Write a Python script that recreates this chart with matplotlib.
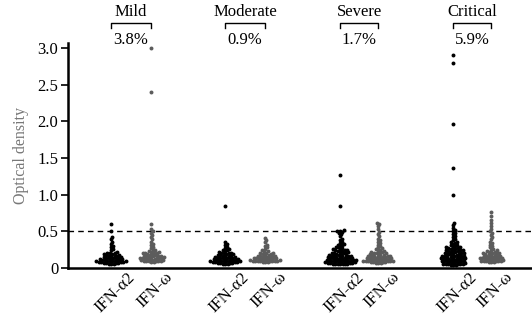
import numpy as np
import matplotlib
matplotlib.use("Agg")
import matplotlib.pyplot as plt
import matplotlib.transforms as mtransforms

plt.rcParams['font.family'] = ['Liberation Serif', 'DejaVu Serif']

severity = ["Mild", "Moderate", "Severe", "Critical"]
percent = ["3.8%", "0.9%", "1.7%", "5.9%"]
tick_labels = ["IFN-α2", "IFN-ω"] * 4

mild_a2 = [0.06, 0.06, 0.06, 0.07, 0.07, 0.07, 0.07, 0.08, 0.08, 0.08, 0.08,
           0.09, 0.09, 0.09, 0.09, 0.10, 0.10, 0.10, 0.11, 0.11, 0.11,
           0.12, 0.12, 0.12, 0.13, 0.13, 0.13, 0.14, 0.14, 0.15, 0.15,
           0.16, 0.16, 0.17, 0.17, 0.18, 0.18, 0.19, 0.19, 0.20, 0.20,
           0.21, 0.22, 0.24, 0.26, 0.28, 0.30, 0.33, 0.36, 0.39, 0.42,
           0.50, 0.60]
mild_w = [0.08, 0.08, 0.09, 0.09, 0.09, 0.10, 0.10, 0.10, 0.11, 0.11, 0.11,
          0.12, 0.12, 0.12, 0.13, 0.13, 0.13, 0.14, 0.14, 0.14, 0.15, 0.15,
          0.15, 0.16, 0.16, 0.16, 0.17, 0.17, 0.18, 0.18, 0.19, 0.19, 0.20,
          0.20, 0.21, 0.21, 0.22, 0.22, 0.23, 0.24, 0.25, 0.27, 0.29, 0.31,
          0.33, 0.36, 0.39, 0.42, 0.45, 0.48, 0.50, 0.53, 0.60, 2.40, 3.00]
mod_a2 = [0.06, 0.06, 0.06, 0.07, 0.07, 0.07, 0.07, 0.08, 0.08, 0.08, 0.08,
          0.09, 0.09, 0.09, 0.09, 0.10, 0.10, 0.10, 0.10, 0.11, 0.11, 0.11,
          0.12, 0.12, 0.12, 0.13, 0.13, 0.13, 0.14, 0.14, 0.14, 0.15, 0.15,
          0.16, 0.16, 0.17, 0.17, 0.18, 0.18, 0.19, 0.19, 0.20, 0.20, 0.21,
          0.21, 0.22, 0.23, 0.24, 0.25, 0.26, 0.27, 0.29, 0.31, 0.33, 0.36,
          0.85]
mod_w = [0.08, 0.08, 0.08, 0.09, 0.09, 0.09, 0.09, 0.10, 0.10, 0.10, 0.10,
         0.11, 0.11, 0.11, 0.11, 0.12, 0.12, 0.12, 0.13, 0.13, 0.13, 0.14,
         0.14, 0.14, 0.15, 0.15, 0.15, 0.16, 0.16, 0.17, 0.17, 0.18, 0.18,
         0.19, 0.19, 0.20, 0.20, 0.21, 0.22, 0.23, 0.24, 0.26, 0.28, 0.30,
         0.32, 0.35, 0.38, 0.41]
sev_a2 = [0.05, 0.05, 0.05, 0.06, 0.06, 0.06, 0.06, 0.07, 0.07, 0.07, 0.07,
          0.08, 0.08, 0.08, 0.08, 0.09, 0.09, 0.09, 0.09, 0.10, 0.10, 0.10,
          0.10, 0.11, 0.11, 0.11, 0.11, 0.12, 0.12, 0.12, 0.13, 0.13, 0.13,
          0.14, 0.14, 0.14, 0.15, 0.15, 0.15, 0.16, 0.16, 0.16, 0.17, 0.17,
          0.17, 0.18, 0.18, 0.19, 0.19, 0.20, 0.20, 0.21, 0.21, 0.22, 0.22,
          0.23, 0.23, 0.24, 0.24, 0.25, 0.26, 0.26, 0.27, 0.28, 0.29, 0.30,
          0.31, 0.32, 0.33, 0.34, 0.36, 0.38, 0.40, 0.43, 0.46, 0.48, 0.49,
          0.50, 0.51, 0.52, 0.85, 1.27]
sev_w = [0.07, 0.07, 0.07, 0.08, 0.08, 0.08, 0.08, 0.09, 0.09, 0.09, 0.09,
         0.10, 0.10, 0.10, 0.10, 0.11, 0.11, 0.11, 0.11, 0.12, 0.12, 0.12,
         0.13, 0.13, 0.13, 0.14, 0.14, 0.14, 0.15, 0.15, 0.15, 0.16, 0.16,
         0.16, 0.17, 0.17, 0.18, 0.18, 0.19, 0.19, 0.20, 0.20, 0.21, 0.21,
         0.22, 0.22, 0.23, 0.24, 0.25, 0.26, 0.27, 0.28, 0.30, 0.32, 0.34,
         0.36, 0.38, 0.40, 0.43, 0.46, 0.49, 0.53, 0.57, 0.60, 0.62]
crit_a2 = [0.04, 0.04, 0.04, 0.05, 0.05, 0.05, 0.06, 0.06, 0.06, 0.07, 0.07,
           0.07, 0.08, 0.08, 0.08, 0.09, 0.09, 0.09, 0.10, 0.10, 0.10, 0.11,
           0.11, 0.11, 0.12, 0.12, 0.12, 0.13, 0.13, 0.13, 0.14, 0.14, 0.14,
           0.15, 0.15, 0.15, 0.16, 0.16, 0.17, 0.17, 0.17, 0.18, 0.18, 0.19,
           0.19, 0.19, 0.20, 0.20, 0.21, 0.21, 0.22, 0.22, 0.23, 0.23, 0.24,
           0.24, 0.25, 0.25, 0.26, 0.26, 0.27, 0.27, 0.28, 0.29, 0.29, 0.30,
           0.31, 0.32, 0.33, 0.34, 0.35, 0.36, 0.38, 0.40, 0.42, 0.44, 0.46,
           0.48, 0.50, 0.52, 0.55, 0.59, 0.62, 1.00, 1.36, 1.96, 2.80, 2.90]
crit_w = [0.08, 0.08, 0.08, 0.09, 0.09, 0.09, 0.10, 0.10, 0.10, 0.11, 0.11,
          0.11, 0.12, 0.12, 0.12, 0.13, 0.13, 0.13, 0.14, 0.14, 0.14, 0.15,
          0.15, 0.15, 0.16, 0.16, 0.17, 0.17, 0.18, 0.18, 0.19, 0.19, 0.20,
          0.20, 0.21, 0.21, 0.22, 0.22, 0.23, 0.24, 0.25, 0.26, 0.28, 0.30,
          0.32, 0.34, 0.36, 0.39, 0.42, 0.45, 0.48, 0.50, 0.53, 0.57, 0.61,
          0.65, 0.71, 0.76]

groups = [mild_a2, mild_w, mod_a2, mod_w, sev_a2, sev_w, crit_a2, crit_w]
# x axis is in pixel-like units so the swarm can be laid out directly
positions = [43, 83, 157, 197, 272, 310, 385, 423]
colors = ["#000000", "#5c5c5c"] * 4

fig = plt.figure(figsize=(5.32, 3.2), dpi=100)
ax = fig.add_axes([68 / 532, 52 / 320, 464 / 532, 225 / 320])
ymax = 3.07
ax.set_xlim(0, 464)
ax.set_ylim(0, ymax)
px_per_y = 225 / ymax


def swarm(vals, d=2.5):
    ys = np.asarray(vals) * px_per_y
    xs = np.zeros(len(ys))
    placed = []
    for i in np.argsort(ys, kind="stable"):
        y = ys[i]
        cands = [0.0]
        for px, py in placed:
            dy = y - py
            if abs(dy) < d:
                dx = np.sqrt(d * d - dy * dy)
                cands += [px + dx, px - dx]
        cands.sort(key=abs)
        for c in cands:
            if all((c - px) ** 2 + (y - py) ** 2 >= d * d - 1e-6 for px, py in placed):
                xs[i] = c
                break
        placed.append((xs[i], y))
    return xs


for vals, pos, col in zip(groups, positions, colors):
    off = swarm(vals)
    ax.scatter(pos + off, vals, s=8, color=col, linewidths=0, zorder=3)

ax.axhline(0.5, color="k", lw=1, ls=(0, (4, 3)), zorder=2)

ax.spines["top"].set_visible(False)
ax.spines["right"].set_visible(False)
ax.spines["left"].set_linewidth(1.8)
ax.spines["bottom"].set_linewidth(1.8)
ax.set_yticks([0, 0.5, 1.0, 1.5, 2.0, 2.5, 3.0])
ax.set_yticklabels(["0", "0.5", "1.0", "1.5", "2.0", "2.5", "3.0"], fontsize=12)
ax.tick_params(axis="y", length=5, width=1.2, pad=2)
ax.set_xticks(positions)
ax.set_xticklabels(tick_labels, rotation=45, fontsize=12, ha="center")
ax.tick_params(axis="x", length=0, pad=1)
shift = mtransforms.ScaledTranslation(4 / 100, 0, fig.dpi_scale_trans)
for lab in ax.get_xticklabels():
    lab.set_transform(lab.get_transform() + shift)
ax.set_ylabel("Optical density", fontsize=11.5, color="#777777", labelpad=6)

trans = mtransforms.blended_transform_factory(ax.transData, ax.transAxes)
for k in range(4):
    x0, x1 = positions[2 * k], positions[2 * k + 1]
    ax.plot([x0, x0, x1, x1], [1.067, 1.09, 1.09, 1.067], color="k", lw=1,
            transform=trans, clip_on=False)
    xc = (x0 + x1) / 2
    ax.text(xc, 1.14, severity[k], transform=trans, ha="center", va="center", fontsize=12)
    ax.text(xc, 1.015, percent[k], transform=trans, ha="center", va="center", fontsize=12)

fig.savefig("out.png", dpi=100)
